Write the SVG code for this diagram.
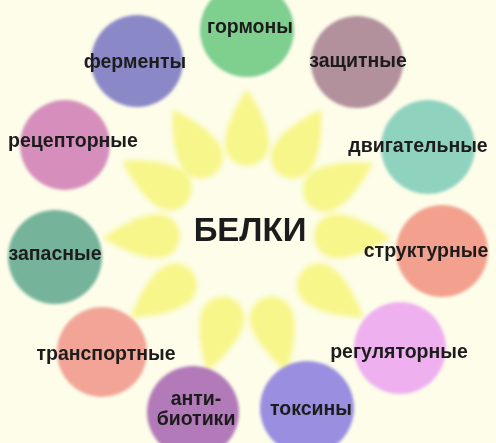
<svg xmlns="http://www.w3.org/2000/svg" xmlns:xlink="http://www.w3.org/1999/xlink" width="496" height="443" viewBox="0 0 496 443">
  <defs>
    <filter id="soft" x="-20%" y="-20%" width="140%" height="140%">
      <feGaussianBlur stdDeviation="1.6"/>
    </filter>
    <filter id="softer" x="-20%" y="-20%" width="140%" height="140%">
      <feGaussianBlur stdDeviation="2.4"/>
    </filter>
    <path id="petal" d="M 0,-144 C 12,-126 22,-106 22,-89 A 22 22 0 0 1 -22,-89 C -22,-106 -12,-126 0,-144 Z"/>
    <style>
      .petal { fill: #f7f68a; }
      .disc { filter: url(#soft); }
      .lbl { font-family: "Liberation Sans", Arial, sans-serif; font-weight: bold; font-size: 19.5px; fill: #1c1c1c; text-anchor: middle; }
      .title { font-family: "Liberation Sans", Arial, sans-serif; font-weight: bold; font-size: 33px; fill: #1c1c1c; text-anchor: middle; }
    </style>
  </defs>
  <rect width="496" height="443" fill="#fdfdea"/>

  <g id="star" filter="url(#softer)">
    <use xlink:href="#petal" class="petal" transform="translate(247,233) rotate(0)"/>
    <use xlink:href="#petal" class="petal" transform="translate(247,233) rotate(31)"/>
    <use xlink:href="#petal" class="petal" transform="translate(247,233) rotate(61)"/>
    <use xlink:href="#petal" class="petal" transform="translate(247,233) rotate(92)"/>
    <use xlink:href="#petal" class="petal" transform="translate(247,233) rotate(126)"/>
    <use xlink:href="#petal" class="petal" transform="translate(247,233) rotate(164)"/>
    <use xlink:href="#petal" class="petal" transform="translate(247,233) rotate(-31)"/>
    <use xlink:href="#petal" class="petal" transform="translate(247,233) rotate(-60)"/>
    <use xlink:href="#petal" class="petal" transform="translate(247,233) rotate(-92)"/>
    <use xlink:href="#petal" class="petal" transform="translate(247,233) rotate(-126)"/>
    <use xlink:href="#petal" class="petal" transform="translate(247,233) rotate(-164)"/>
  </g>

  <g id="center">
    <text class="title" x="250" y="241">БЕЛКИ</text>
  </g>

  <g id="gormony">
    <circle class="disc" cx="247" cy="30" r="47" fill="#7fcf8f"/>
    <text class="lbl" x="250" y="33">гормоны</text>
  </g>
  <g id="fermenty">
    <circle class="disc" cx="137" cy="61" r="46" fill="#8b88c8"/>
    <text class="lbl" x="135" y="68">ферменты</text>
  </g>
  <g id="zashchitnye">
    <circle class="disc" cx="357" cy="62" r="46" fill="#b2909c"/>
    <text class="lbl" x="358" y="67">защитные</text>
  </g>
  <g id="retseptornye">
    <circle class="disc" cx="65" cy="145" r="45" fill="#d68fbc"/>
    <text class="lbl" x="73" y="147">рецепторные</text>
  </g>
  <g id="dvigatelnye">
    <circle class="disc" cx="428" cy="147" r="47" fill="#8fd3bf"/>
    <text class="lbl" x="418" y="152">двигательные</text>
  </g>
  <g id="zapasnye">
    <circle class="disc" cx="55" cy="257" r="47" fill="#76b39b"/>
    <text class="lbl" x="55" y="260">запасные</text>
  </g>
  <g id="strukturnye">
    <circle class="disc" cx="442" cy="251" r="46" fill="#f3a18e"/>
    <text class="lbl" x="426" y="257">структурные</text>
  </g>
  <g id="transportnye">
    <circle class="disc" cx="102" cy="352" r="45" fill="#f2a596"/>
    <text class="lbl" x="106" y="360">транспортные</text>
  </g>
  <g id="regulyatornye">
    <circle class="disc" cx="400" cy="348" r="46" fill="#efb0f0"/>
    <text class="lbl" x="399" y="358">регуляторные</text>
  </g>
  <g id="antibiotiki">
    <circle class="disc" cx="193" cy="412" r="46" fill="#b27ab8"/>
    <text class="lbl" x="196" y="405">анти-</text>
    <text class="lbl" x="196" y="425">биотики</text>
  </g>
  <g id="toksiny">
    <circle class="disc" cx="307" cy="408" r="47" fill="#9a8ee0"/>
    <text class="lbl" x="311" y="415">токсины</text>
  </g>
</svg>
